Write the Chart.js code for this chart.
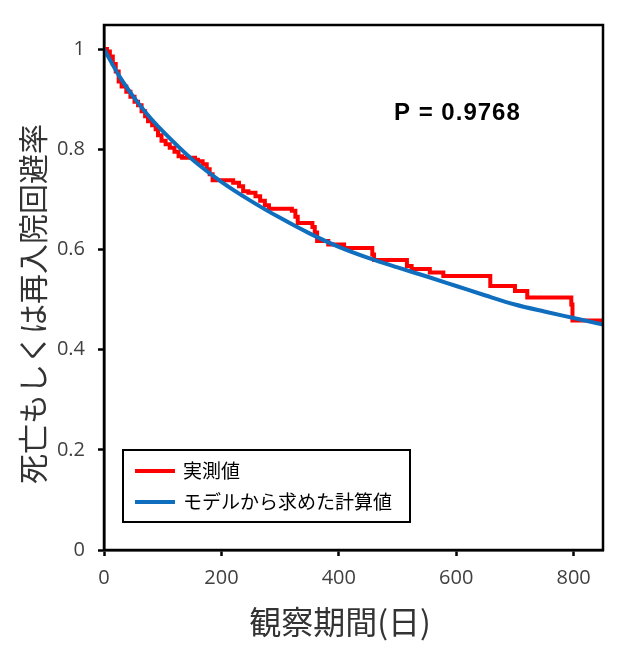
<!DOCTYPE html>
<html>
<head>
<meta charset="utf-8">
<script src="https://cdn.jsdelivr.net/npm/chart.js@4"></script>
<style>
html,body{margin:0;padding:0;background:#fff;}
#wrap{width:640px;height:648px;}
</style>
</head>
<body>
<div id="wrap"><canvas id="survival"></canvas></div>
<script>
// observed Kaplan-Meier steps (days, rate)
const observedDays=[0,5,10,15,20,25,30,38,45,52,58,64,70,75,82,88,92,98,105,112,120,127,133,155,160,168,175,180,185,220,230,237,246,258,266,274,281,320,326,330,355,359,363,382,409,457,460,516,524,555,578,658,700,721,796,798,850];
const observedRate=[1.000,0.995,0.985,0.970,0.955,0.935,0.925,0.915,0.905,0.895,0.888,0.876,0.866,0.856,0.848,0.840,0.828,0.817,0.810,0.803,0.795,0.786,0.783,0.779,0.776,0.770,0.760,0.750,0.738,0.733,0.726,0.716,0.713,0.706,0.697,0.688,0.681,0.677,0.665,0.653,0.645,0.634,0.617,0.610,0.603,0.590,0.579,0.567,0.561,0.554,0.547,0.527,0.517,0.504,0.490,0.458,0.458];

// model curve
const modelDays=[0,25,50,75,100,125,150,200,250,300,350,400,450,500,550,600,650,700,750,800,850];
const modelRate=[1.000,0.948,0.905,0.868,0.836,0.807,0.780,0.735,0.697,0.663,0.632,0.605,0.583,0.564,0.546,0.527,0.508,0.490,0.476,0.463,0.450];

const seriesNames=["実測値","モデルから求めた計算値"];
const seriesColors=["#ff0000","#0f6ebe"];
const xTicks=[0,200,400,600,800];
const yTicks=[0,0.2,0.4,0.6,0.8,1];
const pLabel="P = 0.9768";
const xTitle="観察期間(日)";
const yTitle="死亡もしくは再入院回避率";

const tickFont={family:"'Open Sans'",size:20};
const cjk="'Noto Sans CJK JP'";

const extras={
    id:"extras",
    afterDraw(chart){
        const ctx=chart.ctx;
        const a=chart.chartArea;
        ctx.save();
        // frame
        ctx.strokeStyle="#000";
        ctx.lineWidth=2.5;
        ctx.strokeRect(a.left,a.top,a.right-a.left,a.bottom-a.top);

        // p value
        ctx.fillStyle="#000";
        ctx.font="bold 24px 'Liberation Sans'";
        ctx.letterSpacing="1px";
        ctx.textAlign="left";
        ctx.textBaseline="alphabetic";
        ctx.fillText(pLabel,394,120);
        ctx.letterSpacing="0px";

        // legend
        ctx.lineWidth=2;
        ctx.strokeRect(123,450,287,72);
        ctx.font="19px "+cjk;
        ctx.textBaseline="middle";
        const rows=[471,502];
        chart.data.datasets.forEach((ds,i)=>{
            ctx.strokeStyle=ds.borderColor;
            ctx.lineWidth=4;
            ctx.beginPath();
            ctx.moveTo(135,rows[i]);
            ctx.lineTo(175,rows[i]);
            ctx.stroke();
            ctx.fillStyle="#000";
            ctx.fillText(ds.label,183,rows[i]);
        });

        // axis titles
        ctx.fillStyle="#333";
        ctx.font="32px "+cjk;
        ctx.textAlign="center";
        ctx.fillText(xTitle,340,622);
        ctx.font="30px "+cjk;
        ctx.translate(33,304);
        ctx.rotate(-Math.PI/2);
        ctx.fillText(yTitle,0,0);
        ctx.restore();
    }
};

new Chart(document.getElementById("survival"),{
    type:"line",
    data:{
        datasets:[
            {
                label:seriesNames[0],
                data:observedDays.map((d,i)=>({x:d,y:observedRate[i]})),
                borderColor:seriesColors[0],
                borderWidth:4,
                stepped:true,
                pointRadius:0,
                fill:false,
                order:1
            },
            {
                label:seriesNames[1],
                data:modelDays.map((d,i)=>({x:d,y:modelRate[i]})),
                borderColor:seriesColors[1],
                borderWidth:4,
                cubicInterpolationMode:"monotone",
                pointRadius:0,
                fill:false,
                order:0
            }
        ]
    },
    options:{
        responsive:true,
        maintainAspectRatio:false,
        animation:false,
        layout:{
            padding:{left:0,top:23,right:37,bottom:0}
        },
        plugins:{
            legend:{display:false},
            tooltip:{enabled:false}
        },
        scales:{
            x:{
                type:"linear",
                min:0,
                max:850,
                afterBuildTicks(scale){
                    scale.ticks=xTicks.map(v=>({value:v}));
                },
                afterFit(scale){
                    scale.height=98;
                },
                grid:{
                    drawOnChartArea:false,
                    drawTicks:true,
                    tickLength:6,
                    tickWidth:2.5,
                    tickColor:"#000"
                },
                border:{display:true,color:"#000",width:2.5},
                ticks:{
                    font:tickFont,
                    color:"#404040",
                    padding:10,
                    maxRotation:0,
                    callback:v=>String(v)
                }
            },
            y:{
                min:0,
                max:1.048,
                afterBuildTicks(scale){
                    scale.ticks=yTicks.map(v=>({value:v}));
                },
                afterFit(scale){
                    scale.width=104;
                },
                grid:{
                    drawOnChartArea:false,
                    drawTicks:true,
                    tickLength:6,
                    tickWidth:2.5,
                    tickColor:"#000"
                },
                border:{display:true,color:"#000",width:2.5},
                ticks:{
                    font:tickFont,
                    color:"#404040",
                    padding:13,
                    callback:v=>String(v)
                }
            }
        }
    },
    plugins:[extras]
});
</script>
</body>
</html>
